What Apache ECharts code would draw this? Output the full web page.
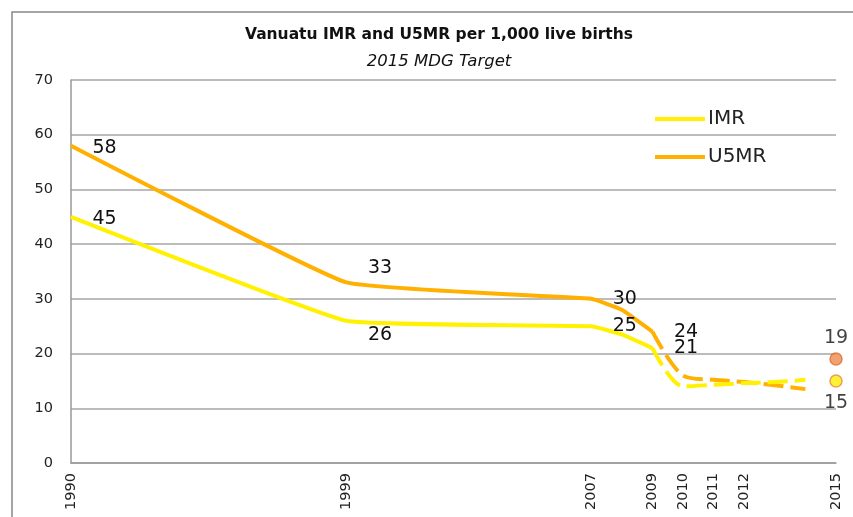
<!DOCTYPE html>
<html>
<head>
    <meta charset="utf-8">
    <title>Vanuatu IMR and U5MR</title>
    <script src="https://cdn.jsdelivr.net/npm/echarts@6/dist/echarts.min.js"></script>
    <style>
        html, body { margin: 0; padding: 0; background: #fff; }
    </style>
</head>
<body>
<div id="main" style="width:853px;height:517px"></div>
<script type="text/javascript">
    // observed values
    var years = [1990, 1999, 2007, 2008, 2009];
    var imrActual = [45, 26, 25, 23.5, 21];
    var u5mrActual = [58, 33, 30, 28, 24];
    // projection (dashed) up to 2014
    var projYears = [2009, 2010, 2011, 2012, 2013, 2014];
    var imrProj = [21, 14, 14.3, 14.6, 14.8, 15.2];
    var u5mrProj = [24, 16, 15.2, 14.8, 14.2, 13.5];
    // 2015 MDG targets
    var targetYear = 2015;
    var imrTarget = 15;
    var u5mrTarget = 19;
    var tickYears = [1990, 1999, 2007, 2009, 2010, 2011, 2012, 2015];

    var imrColor = '#FFF100';
    var u5mrColor = '#FFB000';
    var labelFont = { fontFamily: 'DejaVu Sans', fontSize: 19, color: '#111' };

    // labels only on the years that carry a value in the source chart
    function actualData(values, yShift1999) {
        return years.map(function (y, i) {
            var item = { value: [y, values[i]] };
            if (y === 2008) {
                item.label = { show: false };
            } else if (y === 1999) {
                item.label = { offset: [0, yShift1999] };
            } else if (y === 1990) {
                item.label = { offset: [0, 2] };
            }
            return item;
        });
    }

    function projData(values) {
        return projYears.map(function (y, i) { return [y, values[i]]; });
    }

    var myChart = echarts.init(document.getElementById('main'));
    var option = {
        animation: false,
        backgroundColor: '#fff',
        title: [{
            text: 'Vanuatu IMR and U5MR per 1,000 live births',
            left: 434,
            top: 22,
            textAlign: 'center',
            textStyle: {
                fontFamily: 'DejaVu Sans',
                fontWeight: 'bold',
                fontSize: 15.5,
                color: '#111'
            }
        }, {
            text: '2015 MDG Target',
            left: 434,
            top: 48,
            textAlign: 'center',
            textStyle: {
                fontFamily: 'DejaVu Sans',
                fontStyle: 'italic',
                fontWeight: 'normal',
                fontSize: 16.5,
                color: '#111'
            }
        }],
        graphic: [{
            type: 'rect',
            shape: { x: 12, y: 12, width: 900, height: 600 },
            style: { fill: 'none', stroke: '#888', lineWidth: 1.5 },
            silent: true
        }],
        legend: {
            orient: 'vertical',
            left: 650,
            top: 104,
            icon: 'rect',
            itemWidth: 50,
            itemHeight: 4,
            itemGap: 18,
            data: ['IMR', 'U5MR'],
            textStyle: { fontFamily: 'DejaVu Sans', fontSize: 20, color: '#222', lineHeight: 20, padding: [0, 0, 0, -2] }
        },
        grid: { left: 71, right: 17, top: 80, bottom: 54 },
        xAxis: {
            type: 'value',
            min: 1990,
            max: 2015,
            interval: 1,
            axisLine: { show: true, lineStyle: { color: '#999', width: 1.5 } },
            axisTick: { show: false },
            splitLine: { show: false },
            axisLabel: {
                rotate: 90,
                margin: 10,
                fontFamily: 'DejaVu Sans',
                fontSize: 14.5,
                color: '#222',
                showMinLabel: true,
                showMaxLabel: true,
                formatter: function (v) {
                    return tickYears.indexOf(v) >= 0 ? String(v) : '';
                }
            }
        },
        yAxis: {
            type: 'value',
            min: 0,
            max: 70,
            interval: 10,
            axisLine: { show: true, lineStyle: { color: '#999', width: 1.5 } },
            axisTick: { show: false },
            splitLine: { lineStyle: { color: '#a6a6a6', width: 1.5 } },
            axisLabel: { margin: 18, fontFamily: 'DejaVu Sans', fontSize: 14.5, color: '#222' }
        },
        series: [{
            name: 'IMR',
            type: 'line',
            smooth: 0.1,
            symbol: 'circle',
            symbolSize: 1,
            lineStyle: { color: imrColor, width: 4 },
            itemStyle: { color: imrColor },
            label: Object.assign({ show: true, position: 'right', distance: 21 }, labelFont),
            data: actualData(imrActual, 14),
            z: 3
        }, {
            name: 'U5MR',
            type: 'line',
            smooth: 0.1,
            symbol: 'circle',
            symbolSize: 1,
            lineStyle: { color: u5mrColor, width: 4 },
            itemStyle: { color: u5mrColor },
            label: Object.assign({ show: true, position: 'right', distance: 21 }, labelFont),
            data: actualData(u5mrActual, -14),
            z: 2
        }, {
            name: 'IMR',
            type: 'line',
            smooth: 0.3,
            symbol: 'none',
            lineStyle: { color: imrColor, width: 4, type: [20, 7] },
            itemStyle: { color: imrColor },
            data: projData(imrProj),
            z: 3
        }, {
            name: 'U5MR',
            type: 'line',
            smooth: 0.3,
            symbol: 'none',
            lineStyle: { color: u5mrColor, width: 4, type: [20, 7] },
            itemStyle: { color: u5mrColor },
            data: projData(u5mrProj),
            z: 2
        }, {
            name: 'U5MR target',
            type: 'scatter',
            symbolSize: 12,
            itemStyle: { color: '#F08A4B', borderColor: '#DC6E38', borderWidth: 1.5 },
            label: Object.assign({ show: true, position: 'top', distance: 5 }, labelFont),
            data: [[targetYear, u5mrTarget]]
        }, {
            name: 'IMR target',
            type: 'scatter',
            symbolSize: 12,
            itemStyle: { color: '#FFEE00', borderColor: '#E8884A', borderWidth: 1.5 },
            label: Object.assign({ show: true, position: 'bottom', distance: 6 }, labelFont),
            data: [[targetYear, imrTarget]]
        }]
    };
    myChart.setOption(option);
</script>
</body>
</html>
